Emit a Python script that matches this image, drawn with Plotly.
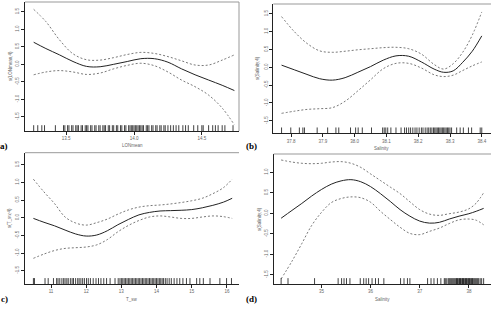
import plotly.graph_objects as go

W, H = 492, 309

# ---------------- Panel a : LONmean ----------------
a_x = [13.26, 13.35, 13.45, 13.55, 13.65, 13.75, 13.85, 13.95, 14.05, 14.15, 14.25, 14.35, 14.45, 14.55, 14.65, 14.74]
a_fit = [0.63, 0.45, 0.27, 0.08, -0.06, -0.07, 0.00, 0.08, 0.16, 0.16, 0.06, -0.13, -0.30, -0.45, -0.60, -0.75]
a_upper = [1.57, 1.22, 0.70, 0.30, 0.13, 0.12, 0.19, 0.28, 0.34, 0.31, 0.22, 0.10, -0.02, -0.02, 0.12, 0.27]
a_lower = [-0.30, -0.22, -0.18, -0.22, -0.29, -0.25, -0.13, -0.03, 0.03, -0.04, -0.22, -0.45, -0.64, -0.88, -1.25, -1.73]
a_rug = [13.26, 13.29, 13.32, 13.34, 13.42, 13.48, 13.49, 13.51, 13.52, 13.54, 13.55, 13.57, 13.58, 13.59,
         13.61, 13.62, 13.64, 13.65, 13.66, 13.68, 13.69, 13.71, 13.72, 13.74, 13.75, 13.77, 13.78, 13.79,
         13.81, 13.82, 13.84, 13.85, 13.87, 13.88, 13.90, 13.91, 13.93, 13.94, 13.96, 13.97, 13.98, 13.99,
         14.00, 14.01, 14.02, 14.03, 14.04, 14.05, 14.06, 14.07, 14.09, 14.10, 14.11, 14.13, 14.14, 14.16,
         14.17, 14.19, 14.20, 14.22, 14.23, 14.25, 14.27, 14.29, 14.31, 14.33, 14.36, 14.38, 14.40, 14.44,
         14.47, 14.50, 14.51, 14.55, 14.58, 14.60, 14.62, 14.65, 14.67, 14.73]
a_xticks = [13.5, 14.0, 14.5]
a_xlabels = ["13.5", "14.0", "14.5"]

# ---------------- Panel b : Salinity ----------------
b_x = [37.77, 37.81, 37.85, 37.89, 37.93, 37.97, 38.01, 38.05, 38.09, 38.13, 38.17, 38.21, 38.25, 38.28, 38.31, 38.34, 38.37, 38.40]
b_fit = [0.06, -0.07, -0.20, -0.32, -0.36, -0.29, -0.14, 0.02, 0.20, 0.32, 0.31, 0.15, -0.05, -0.14, -0.10, 0.14, 0.45, 0.88]
b_upper = [1.42, 1.00, 0.67, 0.46, 0.42, 0.45, 0.49, 0.52, 0.55, 0.56, 0.52, 0.37, 0.08, -0.05, 0.10, 0.42, 0.90, 1.55]
b_lower = [-1.29, -1.23, -1.18, -1.16, -1.13, -0.95, -0.66, -0.35, -0.04, 0.11, 0.11, -0.02, -0.21, -0.26, -0.22, -0.09, 0.04, 0.15]
b_rug = [37.770, 37.799, 37.826, 37.837, 37.842, 37.882, 37.915, 37.941, 37.950, 37.987, 38.003, 38.011,
         38.024, 38.053, 38.088, 38.093, 38.098, 38.104, 38.114, 38.130, 38.146, 38.157, 38.163, 38.170,
         38.176, 38.183, 38.190, 38.196, 38.203, 38.210, 38.215, 38.222, 38.228, 38.233, 38.238, 38.243,
         38.248, 38.252, 38.256, 38.260, 38.264, 38.268, 38.272, 38.276, 38.280, 38.284, 38.288, 38.292,
         38.296, 38.300, 38.305, 38.321, 38.332, 38.342, 38.358, 38.368, 38.395, 38.400]
b_xticks = [37.8, 37.9, 38.0, 38.1, 38.2, 38.3, 38.4]
b_xlabels = ["37.8", "37.9", "38.0", "38.1", "38.2", "38.3", "38.4"]

# ---------------- Panel c : T_sw ----------------
c_x = [10.5, 10.8, 11.1, 11.4, 11.7, 12.0, 12.3, 12.6, 12.9, 13.2, 13.5, 13.8, 14.1, 14.4, 14.7, 15.0, 15.3, 15.6, 15.9, 16.15]
c_fit = [-0.02, -0.13, -0.23, -0.35, -0.46, -0.52, -0.49, -0.37, -0.20, -0.05, 0.08, 0.15, 0.19, 0.20, 0.21, 0.23, 0.28, 0.35, 0.44, 0.55]
c_upper = [1.09, 0.73, 0.40, 0.02, -0.15, -0.21, -0.14, -0.04, 0.10, 0.22, 0.30, 0.34, 0.36, 0.39, 0.43, 0.48, 0.55, 0.68, 0.85, 1.09]
c_lower = [-1.15, -1.03, -0.93, -0.87, -0.85, -0.83, -0.77, -0.62, -0.40, -0.22, -0.08, 0.02, 0.05, 0.02, -0.02, -0.02, 0.02, 0.05, 0.03, -0.02]
c_rug = [10.50, 10.53, 10.83, 10.92, 11.07, 11.16, 11.20, 11.25, 11.31, 11.36, 11.40, 11.45, 11.49, 11.55,
         11.60, 11.64, 11.70, 11.76, 11.80, 11.85, 11.90, 11.95, 12.01, 12.06, 12.12, 12.20, 12.28, 12.35,
         12.42, 12.50, 12.58, 12.68, 12.82, 12.91, 12.96, 13.00, 13.04, 13.08, 13.12, 13.16, 13.20, 13.24,
         13.28, 13.32, 13.36, 13.40, 13.44, 13.48, 13.52, 13.56, 13.60, 13.64, 13.68, 13.72, 13.76, 13.80,
         13.84, 13.88, 13.92, 13.96, 14.00, 14.04, 14.08, 14.12, 14.16, 14.20, 14.25, 14.30, 14.36, 14.42,
         14.50, 14.58, 14.66, 14.75, 14.85, 14.95, 15.14, 15.23, 15.33, 15.52, 15.80, 15.99, 16.13]
c_xticks = [11, 12, 13, 14, 15, 16]
c_xlabels = ["11", "12", "13", "14", "15", "16"]

# ---------------- Panel d : Salinity ----------------
d_x = [34.18, 34.4, 34.6, 34.8, 35.0, 35.2, 35.4, 35.6, 35.8, 36.0, 36.2, 36.4, 36.6, 36.8, 37.0, 37.2, 37.4, 37.6, 37.8, 38.0, 38.15, 38.30]
d_fit = [-0.12, 0.07, 0.24, 0.42, 0.58, 0.71, 0.79, 0.82, 0.77, 0.65, 0.48, 0.29, 0.09, -0.07, -0.19, -0.24, -0.22, -0.14, -0.07, -0.01, 0.05, 0.12]
d_upper = [1.30, 1.25, 1.22, 1.21, 1.22, 1.25, 1.26, 1.22, 1.12, 0.96, 0.80, 0.64, 0.48, 0.28, 0.09, -0.02, -0.05, -0.01, 0.03, 0.11, 0.25, 0.50]
d_lower = [-1.60, -1.17, -0.74, -0.30, 0.02, 0.26, 0.36, 0.40, 0.38, 0.27, 0.05, -0.15, -0.34, -0.49, -0.52, -0.44, -0.36, -0.25, -0.16, -0.14, -0.17, -0.28]
d_rug = [34.18, 34.32, 34.86, 35.34, 35.41, 35.46, 35.51, 35.58, 35.79, 35.86, 35.91, 35.96, 36.03, 36.10,
         36.16, 36.27, 36.61, 36.68, 36.75, 36.80, 37.16, 37.23, 37.29, 37.36, 37.43, 37.50, 37.52, 37.55,
         37.58, 37.60, 37.62, 37.64, 37.66, 37.68, 37.70, 37.72, 37.74, 37.75, 37.77, 37.78, 37.80, 37.81,
         37.83, 37.84, 37.86, 37.87, 37.89, 37.90, 37.92, 37.93, 37.95, 37.96, 37.98, 37.99, 38.01, 38.02,
         38.04, 38.05, 38.07, 38.08, 38.10, 38.12, 38.14, 38.16, 38.18, 38.20, 38.23, 38.26, 38.30]
d_xticks = [35, 36, 37, 38]
d_xlabels = ["35", "36", "37", "38"]

y_ticks_a = [-1.5, -1.0, -0.5, 0.0, 0.5, 1.0, 1.5]
y_ticks_d = [-1.5, -1.0, -0.5, 0.0, 0.5, 1.0]


def lab(v):
    return f"{v:.1f}".replace("\u2212", "-")


def xd(l, r):
    return [l / W, r / W]


def yd(t, b):
    return [1 - b / H, 1 - t / H]


panels = [
    dict(x=a_x, fit=a_fit, up=a_upper, lo=a_lower, rug=a_rug, xt=a_xticks, xl=a_xlabels, yt=y_ticks_a,
         xr=[13.196, 14.774], yr=[-1.906, 1.78], xdom=(25, 239), ydom=(2, 131),
         xtitle="LONmean", ytitle="s(LONmean,4)", xtp=(132, 145.5), ytp=(10, 66),
         tag="a)", tagp=(4, 146), right=True),
    dict(x=b_x, fit=b_fit, up=b_upper, lo=b_lower, rug=b_rug, xt=b_xticks, xl=b_xlabels, yt=y_ticks_a,
         xr=[37.744, 38.429], yr=[-1.849, 1.773], xdom=(273.3, 491), ydom=(4, 133.3),
         xtitle="Salinity", ytitle="s(Salinity,4)", xtp=(381, 148.5), ytp=(257, 68),
         tag="(b)", tagp=(251, 146), right=False),
    dict(x=c_x, fit=c_fit, up=c_upper, lo=c_lower, rug=c_rug, xt=c_xticks, xl=c_xlabels, yt=y_ticks_a,
         xr=[10.261, 16.344], yr=[-1.878, 1.841], xdom=(25, 239), ydom=(152.7, 284),
         xtitle="T_sw", ytitle="s(T_sw,4)", xtp=(132, 299), ytp=(10, 218),
         tag="c)", tagp=(4, 299), right=False),
    dict(x=d_x, fit=d_fit, up=d_upper, lo=d_lower, rug=d_rug, xt=d_xticks, xl=d_xlabels, yt=y_ticks_d,
         xr=[34.029, 38.45], yr=[-1.724, 1.446], xdom=(273.7, 491), ydom=(154, 284),
         xtitle="Salinity", ytitle="s(Salinity,4)", xtp=(382, 299), ytp=(259, 219),
         tag="(d)", tagp=(251, 299), right=False),
]

fig = go.Figure()
shapes = []
annotations = []
tickfont = dict(family="Liberation Sans, Arial", size=4.5, color="#666")

for i, p in enumerate(panels, start=1):
    sx = "" if i == 1 else str(i)
    xa, ya = "x" + sx, "y" + sx
    for ys, dash, col, wd in [(p["up"], "2px,2px", "#555", 0.8), (p["lo"], "2px,2px", "#555", 0.8),
                              (p["fit"], "solid", "#222", 1.0)]:
        fig.add_trace(go.Scatter(x=p["x"], y=ys, mode="lines", line=dict(color=col, width=wd, dash=dash, shape="spline"),
                                 xaxis=xa, yaxis=ya, showlegend=False, hoverinfo="skip"))
    for v in p["rug"]:
        shapes.append(dict(type="line", xref=xa, yref=ya + " domain", x0=v, x1=v, y0=0, y1=0.045,
                           line=dict(color="#111", width=0.8)))
    shapes.append(dict(type="line", xref=xa + " domain", yref=ya + " domain", x0=0, x1=1, y0=1, y1=1,
                       line=dict(color="#999", width=1)))
    if p["right"]:
        shapes.append(dict(type="line", xref=xa + " domain", yref=ya + " domain", x0=1, x1=1, y0=0, y1=1,
                           line=dict(color="#999", width=1)))
    fig.update_layout(**{
        "xaxis" + sx: dict(domain=xd(*p["xdom"]), range=p["xr"], anchor=ya, showgrid=False, zeroline=False,
                           showline=True, linecolor="#222", linewidth=1, ticks="outside", ticklen=3,
                           tickwidth=0.7, tickcolor="#222", tickvals=p["xt"], ticktext=p["xl"],
                           tickfont=tickfont),
        "yaxis" + sx: dict(domain=yd(*p["ydom"]), range=p["yr"], anchor=xa, showgrid=False, zeroline=False,
                           showline=True, linecolor="#222", linewidth=1, ticks="outside", ticklen=3,
                           tickwidth=0.7, tickcolor="#222", tickvals=p["yt"], ticktext=[lab(v) for v in p["yt"]],
                           tickangle=-90, tickfont=tickfont),
    })
    annotations.append(dict(text=p["xtitle"], x=p["xtp"][0] / W, y=1 - p["xtp"][1] / H, xref="paper", yref="paper",
                            showarrow=False, font=dict(family="Liberation Sans, Arial", size=4.5, color="#666"),
                            xanchor="center", yanchor="middle"))
    annotations.append(dict(text=p["ytitle"], x=p["ytp"][0] / W, y=1 - p["ytp"][1] / H, xref="paper", yref="paper",
                            showarrow=False, textangle=-90,
                            font=dict(family="Liberation Sans, Arial", size=4.5, color="#666"),
                            xanchor="center", yanchor="middle"))
    annotations.append(dict(text="<b>" + p["tag"] + "</b>", x=p["tagp"][0] / W, y=1 - p["tagp"][1] / H,
                            xref="paper", yref="paper", showarrow=False,
                            font=dict(family="Liberation Serif, Times New Roman", size=9, color="#000"),
                            xanchor="center", yanchor="middle"))

fig.update_layout(width=W, height=H, margin=dict(l=0, r=0, t=0, b=0), paper_bgcolor="white",
                  plot_bgcolor="white", shapes=shapes, annotations=annotations)
fig.write_html("out.html")
